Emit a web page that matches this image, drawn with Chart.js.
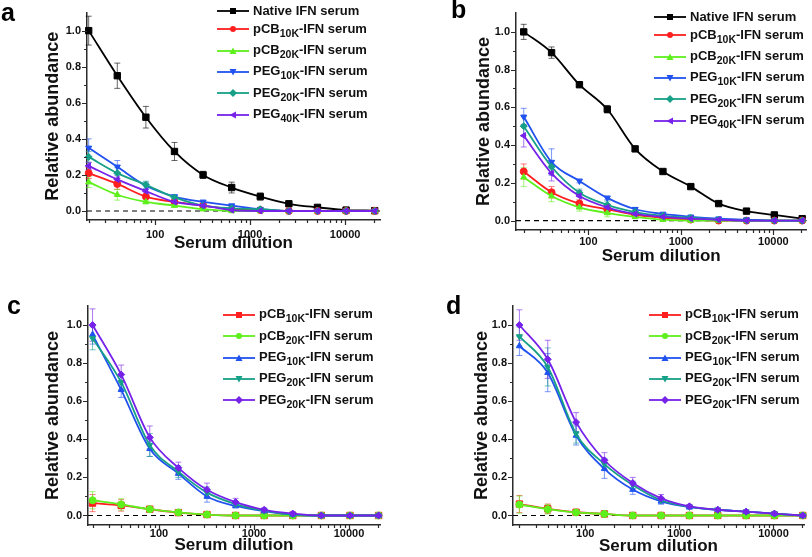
<!DOCTYPE html>
<html>
<head>
<meta charset="utf-8">
<script src="https://cdn.jsdelivr.net/npm/chart.js@4.4.1/dist/chart.umd.min.js"></script>
<style>
  body { margin: 0; background: #fff; width: 812px; height: 557px; position: relative; overflow: hidden; font-family: "Liberation Sans", Arial, sans-serif; }
  .panel { position: absolute; }
  .tag { position: absolute; font-weight: bold; font-size: 25px; line-height: 25px; color: #000; }
  .legend { position: absolute; font-weight: bold; font-size: 13px; color: #111; white-space: nowrap; }
  .row { height: 21.4px; line-height: 21.4px; }
  .row.plain { height: 14px; line-height: 14px; }
  .row svg { vertical-align: middle; margin-right: 4px; }
  sub { font-size: 10.5px; vertical-align: -4px; line-height: 0; }
</style>
</head>
<body>
<div class="panel" style="left:0;top:0"><canvas id="chartA" width="406" height="278"></canvas></div>
<div class="panel" style="left:406px;top:0"><canvas id="chartB" width="406" height="278"></canvas></div>
<div class="panel" style="left:0;top:278px"><canvas id="chartC" width="406" height="279"></canvas></div>
<div class="panel" style="left:406px;top:278px"><canvas id="chartD" width="406" height="279"></canvas></div>

<div class="tag" style="left:1px;top:-0.5px">a</div>
<div class="tag" style="left:451px;top:-3px">b</div>
<div class="tag" style="left:7px;top:293px">c</div>
<div class="tag" style="left:446px;top:293px">d</div>

<div class="legend" id="legA" style="left:217px;top:3.7px"></div>
<div class="legend" id="legB" style="left:654px;top:9.7px"></div>
<div class="legend" id="legC" style="left:223px;top:303.3px"></div>
<div class="legend" id="legD" style="left:649px;top:303.3px"></div>

<script>
// serum dilution (x)
const dilution = [20, 40, 80, 160, 320, 640, 1280, 2560, 5120, 10240, 20480];

// panel a
const aNative = [1.0, 0.75, 0.52, 0.33, 0.20, 0.13, 0.08, 0.04, 0.02, 0.005, 0.002];
const aNativeErr = [0.08, 0.07, 0.06, 0.05, 0.02, 0.03, 0.02, 0.01, 0.01, 0.005, 0];
const aPcb10 = [0.21, 0.15, 0.08, 0.05, 0.03, 0.01, 0.005, 0, 0, 0, 0];
const aPcb10Err = [0.03, 0.03, 0.01, 0.01, 0.01, 0.005, 0, 0, 0, 0, 0];
const aPcb20 = [0.16, 0.09, 0.05, 0.03, 0.01, 0, 0, 0, 0, 0, 0];
const aPcb20Err = [0.03, 0.03, 0.01, 0.01, 0.005, 0, 0, 0, 0, 0, 0];
const aPeg10 = [0.35, 0.245, 0.14, 0.08, 0.05, 0.03, 0.01, 0, 0, 0, 0];
const aPeg10Err = [0.05, 0.035, 0.02, 0.01, 0.01, 0.005, 0.005, 0, 0, 0, 0];
const aPeg20 = [0.30, 0.21, 0.145, 0.075, 0.03, 0.015, 0.01, 0, 0, 0, 0];
const aPeg20Err = [0.03, 0.03, 0.02, 0.01, 0.01, 0.005, 0, 0, 0, 0, 0];
const aPeg40 = [0.25, 0.175, 0.11, 0.05, 0.03, 0.005, 0, 0, 0, 0, 0];
const aPeg40Err = [0.02, 0.02, 0.01, 0.01, 0.005, 0, 0, 0, 0, 0, 0];

// panel b
const bNative = [1.0, 0.89, 0.72, 0.59, 0.38, 0.26, 0.18, 0.09, 0.05, 0.03, 0.01];
const bNativeErr = [0.04, 0.03, 0.01, 0.02, 0.01, 0.01, 0.01, 0.01, 0.005, 0.005, 0.005];
const bPcb10 = [0.26, 0.15, 0.09, 0.06, 0.03, 0.015, 0.005, 0, 0, 0, 0];
const bPcb10Err = [0.04, 0.03, 0.02, 0.02, 0.01, 0.01, 0.01, 0, 0, 0, 0];
const bPcb20 = [0.23, 0.13, 0.07, 0.04, 0.02, 0.005, 0, 0, 0, 0, 0];
const bPcb20Err = [0.05, 0.03, 0.02, 0.02, 0.01, 0.01, 0.01, 0.005, 0, 0, 0];
const bPeg10 = [0.55, 0.31, 0.21, 0.12, 0.06, 0.035, 0.02, 0.01, 0.005, 0, 0];
const bPeg10Err = [0.045, 0.07, 0.01, 0.01, 0.01, 0.005, 0.005, 0, 0, 0, 0];
const bPeg20 = [0.50, 0.285, 0.147, 0.083, 0.045, 0.025, 0.015, 0.005, 0, 0, 0];
const bPeg20Err = [0.05, 0.03, 0.02, 0.02, 0.01, 0.005, 0.005, 0, 0, 0, 0];
const bPeg40 = [0.45, 0.25, 0.13, 0.07, 0.035, 0.02, 0.01, 0.005, 0, 0, 0];
const bPeg40Err = [0.06, 0.04, 0.03, 0.02, 0.01, 0.005, 0.005, 0, 0, 0, 0];

// panel c
const cPcb10 = [0.065, 0.053, 0.033, 0.015, 0.005, 0, 0, 0, 0, 0, 0];
const cPcb10Err = [0.045, 0.03, 0.01, 0.015, 0.01, 0, 0, 0, 0, 0, 0];
const cPcb20 = [0.08, 0.058, 0.033, 0.016, 0.005, 0, 0, 0, 0, 0, 0];
const cPcb20Err = [0.045, 0.03, 0.01, 0.015, 0.01, 0.01, 0.01, 0.01, 0, 0, 0];
const cPeg10 = [0.95, 0.66, 0.35, 0.22, 0.10, 0.05, 0.023, 0.005, 0, 0, 0];
const cPeg10Err = [0.05, 0.04, 0.04, 0.03, 0.03, 0.01, 0.01, 0, 0, 0, 0];
const cPeg20 = [0.93, 0.70, 0.37, 0.23, 0.12, 0.06, 0.025, 0.005, 0, 0, 0];
const cPeg20Err = [0.06, 0.04, 0.06, 0.03, 0.03, 0.01, 0.01, 0, 0, 0, 0];
const cPeg20b = [1.0, 0.74, 0.41, 0.25, 0.135, 0.07, 0.03, 0.01, 0, 0, 0];
const cPeg20bErr = [0.085, 0.05, 0.06, 0.03, 0.035, 0.02, 0.01, 0.01, 0, 0, 0];

// panel d
const dPcb10 = [0.06, 0.035, 0.017, 0.008, 0, 0, 0, 0, 0, 0, 0];
const dPcb10Err = [0.045, 0.025, 0.01, 0.01, 0.005, 0, 0, 0, 0, 0, 0];
const dPcb20 = [0.057, 0.033, 0.016, 0.008, 0, 0, 0, 0, 0, 0, 0];
const dPcb20Err = [0.045, 0.025, 0.01, 0.015, 0.005, 0.005, 0.005, 0.005, 0.005, 0, 0];
const dPeg10 = [0.89, 0.75, 0.42, 0.245, 0.136, 0.074, 0.044, 0.03, 0.02, 0.01, 0];
const dPeg10Err = [0.05, 0.1, 0.05, 0.05, 0.025, 0.015, 0.01, 0, 0, 0, 0];
const dPeg20 = [0.94, 0.78, 0.43, 0.27, 0.16, 0.08, 0.045, 0.03, 0.02, 0.01, 0];
const dPeg20Err = [0.05, 0.1, 0.05, 0.03, 0.02, 0.01, 0.01, 0, 0, 0, 0];
const dPeg20b = [1.0, 0.82, 0.49, 0.29, 0.17, 0.09, 0.048, 0.03, 0.02, 0.01, 0];
const dPeg20bErr = [0.08, 0.1, 0.05, 0.04, 0.03, 0.02, 0.01, 0.01, 0.01, 0.01, 0];

// legend names: [main, subscript, rest]
const namesAB = [['Native IFN serum'], ['pCB', '10K', '-IFN serum'], ['pCB', '20K', '-IFN serum'],
  ['PEG', '10K', '-IFN serum'], ['PEG', '20K', '-IFN serum'], ['PEG', '40K', '-IFN serum']];
const namesCD = [['pCB', '10K', '-IFN serum'], ['pCB', '20K', '-IFN serum'],
  ['PEG', '10K', '-IFN serum'], ['PEG', '20K', '-IFN serum'], ['PEG', '20K', '-IFN serum']];

const yTitle = 'Relative abundance';
const xTitle = 'Serum dilution';

const black = '#000000', red = '#ff1f1f', green = '#5ef01c', blue = '#2152f0', teal = '#16a088', purple = '#7622ea';
const colorsAB = [black, red, green, blue, teal, purple];
const markersAB = ['rect', 'circle', 'triangle', 'triangleDown', 'rectRot', 'triangleLeft'];
const colorsCD = [red, green, blue, teal, purple];
const markersCD = ['rect', 'circle', 'triangle', 'triangleDown', 'rectRot'];

const axisColor = '#2a2a2a';
Chart.defaults.font.family = '"Liberation Sans", Arial, sans-serif';
Chart.defaults.color = '#111';

// error bars + dashed zero line
const errorBars = {
  id: 'errorBars',
  beforeDatasetsDraw(chart) {
    const {ctx, chartArea: a, scales: {y}} = chart;
    ctx.save();
    const y0 = y.getPixelForValue(0);
    ctx.strokeStyle = '#000';
    ctx.lineWidth = 1.2;
    ctx.setLineDash([5, 4]);
    ctx.beginPath();
    ctx.moveTo(a.left, y0);
    ctx.lineTo(a.right, y0);
    ctx.stroke();
    ctx.setLineDash([]);
    chart.data.datasets.forEach((ds, i) => {
      const meta = chart.getDatasetMeta(i);
      ctx.strokeStyle = ds.borderColor + '99';
      ctx.lineWidth = 1;
      meta.data.forEach((pt, j) => {
        const e = ds.err[j];
        if (!e) return;
        const yt = y.getPixelForValue(ds.data[j].y + e);
        const yb = y.getPixelForValue(ds.data[j].y - e);
        ctx.beginPath();
        ctx.moveTo(pt.x, yt); ctx.lineTo(pt.x, yb);
        ctx.moveTo(pt.x - 3, yt); ctx.lineTo(pt.x + 3, yt);
        ctx.moveTo(pt.x - 3, yb); ctx.lineTo(pt.x + 3, yb);
        ctx.stroke();
      });
    });
    ctx.restore();
  }
};

// outward ticks, longer where there is a label
const axisTicks = {
  id: 'axisTicks',
  afterDraw(chart) {
    const {ctx, chartArea: a, scales: {x, y}} = chart;
    ctx.save();
    ctx.strokeStyle = axisColor;
    ctx.lineWidth = 1.2;
    ctx.beginPath();
    x.ticks.forEach(t => {
      const px = Math.round(x.getPixelForValue(t.value)) + 0.5;
      ctx.moveTo(px, a.bottom);
      ctx.lineTo(px, a.bottom + (t.label ? 5 : 3));
    });
    y.ticks.forEach(t => {
      const py = Math.round(y.getPixelForValue(t.value)) + 0.5;
      ctx.moveTo(a.left, py);
      ctx.lineTo(a.left - (t.label ? 5 : 3), py);
    });
    ctx.stroke();
    ctx.restore();
  }
};

function makeChart(id, series, errs, names, colors, markers, box) {
  const rot = {triangleDown: 180, triangleLeft: 270};
  const datasets = series.map((vals, i) => ({
    label: names[i].join(''),
    data: vals.map((v, j) => ({x: dilution[j], y: v})),
    err: errs[i],
    borderColor: colors[i],
    backgroundColor: colors[i],
    borderWidth: 1.8,
    pointStyle: markers[i].startsWith('triangle') ? 'triangle' : markers[i],
    pointRotation: rot[markers[i]] || 0,
    pointRadius: markers[i] === 'rect' ? 4.5 : 3.5,
    pointBorderWidth: 1,
    cubicInterpolationMode: 'monotone',
    clip: false,
    order: -i
  }));
  const cv = document.getElementById(id);
  return new Chart(cv, {
    type: 'line',
    data: {datasets},
    options: {
      responsive: false,
      animation: false,
      layout: {padding: {left: 0, top: box.t, right: cv.width - box.r, bottom: 0}},
      plugins: {legend: {display: false}, tooltip: {enabled: false}},
      scales: {
        x: {
          type: 'logarithmic',
          min: box.xMin, max: box.xMax,
          grid: {display: false, drawTicks: false},
          border: {display: true, color: axisColor, width: 1.5},
          afterFit: s => { s.height = cv.height - box.b; },
          afterBuildTicks: s => {
            const t = [];
            for (let e = 1; e <= 4; e++) {
              for (let m = 1; m <= 9; m++) {
                const v = m * Math.pow(10, e);
                if (v >= s.min && v <= s.max) t.push({value: v});
              }
            }
            s.ticks = t;
          },
          ticks: {
            autoSkip: false, maxRotation: 0, minRotation: 0, padding: box.xlPad,
            color: '#111', font: {size: 11, weight: 'bold'},
            callback: v => [100, 1000, 10000].includes(v) ? String(v) : ''
          },
          title: {display: true, text: xTitle, color: '#111', font: {size: 17, weight: 'bold'},
            padding: {top: 0, bottom: box.xtPad}}
        },
        y: {
          min: -0.05, max: 1.1,
          grid: {display: false, drawTicks: false},
          border: {display: true, color: axisColor, width: 1.5},
          afterFit: s => { s.width = box.l; },
          afterBuildTicks: s => {
            const t = [];
            for (let i = 0; i <= 10; i++) t.push({value: i / 10});
            s.ticks = t;
          },
          ticks: {
            autoSkip: false, padding: 6,
            color: '#111', font: {size: 11, weight: 'bold'},
            callback: v => Math.round(v * 10) % 2 === 0 ? v.toFixed(1) : ''
          },
          title: {display: true, text: yTitle, color: '#111', font: {size: 18, weight: 'bold'},
            padding: {top: box.ytPad, bottom: 0}}
        }
      }
    },
    plugins: [errorBars, axisTicks]
  });
}

function sampleSvg(color, marker) {
  const c = color;
  let m = '';
  if (marker === 'rect') m = `<rect x="13" y="2" width="6" height="6" fill="${c}"/>`;
  else if (marker === 'circle') m = `<circle cx="16" cy="5" r="3" fill="${c}"/>`;
  else if (marker === 'triangle') m = `<polygon points="16,1.5 19.5,8 12.5,8" fill="${c}"/>`;
  else if (marker === 'triangleDown') m = `<polygon points="12.5,2 19.5,2 16,8.5" fill="${c}"/>`;
  else if (marker === 'rectRot') m = `<polygon points="16,1 20,5 16,9 12,5" fill="${c}"/>`;
  else if (marker === 'triangleLeft') m = `<polygon points="12.5,5 19,1.5 19,8.5" fill="${c}"/>`;
  return `<svg width="32" height="10"><line x1="0" y1="5" x2="32" y2="5" stroke="${c}" stroke-width="1.8"/>${m}</svg>`;
}

function fillLegend(id, names, colors, markers) {
  document.getElementById(id).innerHTML = names.map((n, i) => {
    const txt = n.length > 1 ? `${n[0]}<sub>${n[1]}</sub>${n[2]}` : n[0];
    return `<div class="row${n.length > 1 ? '' : ' plain'}">${sampleSvg(colors[i], markers[i])}${txt}</div>`;
  }).join('');
}

makeChart('chartA', [aNative, aPcb10, aPcb20, aPeg10, aPeg20, aPeg40],
  [aNativeErr, aPcb10Err, aPcb20Err, aPeg10Err, aPeg20Err, aPeg40Err],
  namesAB, colorsAB, markersAB,
  {l: 87, r: 380, t: 5, b: 220, xMin: 19.2, xMax: 23300, ytPad: 42, xtPad: 24, xlPad: 8});
makeChart('chartB', [bNative, bPcb10, bPcb20, bPeg10, bPeg20, bPeg40],
  [bNativeErr, bPcb10Err, bPcb20Err, bPeg10Err, bPeg20Err, bPeg40Err],
  namesAB, colorsAB, markersAB,
  {l: 110, r: 404, t: 13, b: 230, xMin: 16.5, xMax: 22800, ytPad: 67, xtPad: 11, xlPad: 5});
makeChart('chartC', [cPcb10, cPcb20, cPeg10, cPeg20, cPeg20b],
  [cPcb10Err, cPcb20Err, cPeg10Err, cPeg20Err, cPeg20bErr],
  namesCD, colorsCD, markersCD,
  {l: 88, r: 380, t: 28, b: 247, xMin: 17.9, xMax: 21200, ytPad: 42, xtPad: 1, xlPad: 2});
makeChart('chartD', [dPcb10, dPcb20, dPeg10, dPeg20, dPeg20b],
  [dPcb10Err, dPcb20Err, dPeg10Err, dPeg20Err, dPeg20bErr],
  namesCD, colorsCD, markersCD,
  {l: 107, r: 398, t: 28, b: 247, xMin: 17.1, xMax: 21100, ytPad: 65, xtPad: 0, xlPad: 2});

fillLegend('legA', namesAB, colorsAB, markersAB);
fillLegend('legB', namesAB, colorsAB, markersAB);
fillLegend('legC', namesCD, colorsCD, markersCD);
fillLegend('legD', namesCD, colorsCD, markersCD);
</script>
</body>
</html>
